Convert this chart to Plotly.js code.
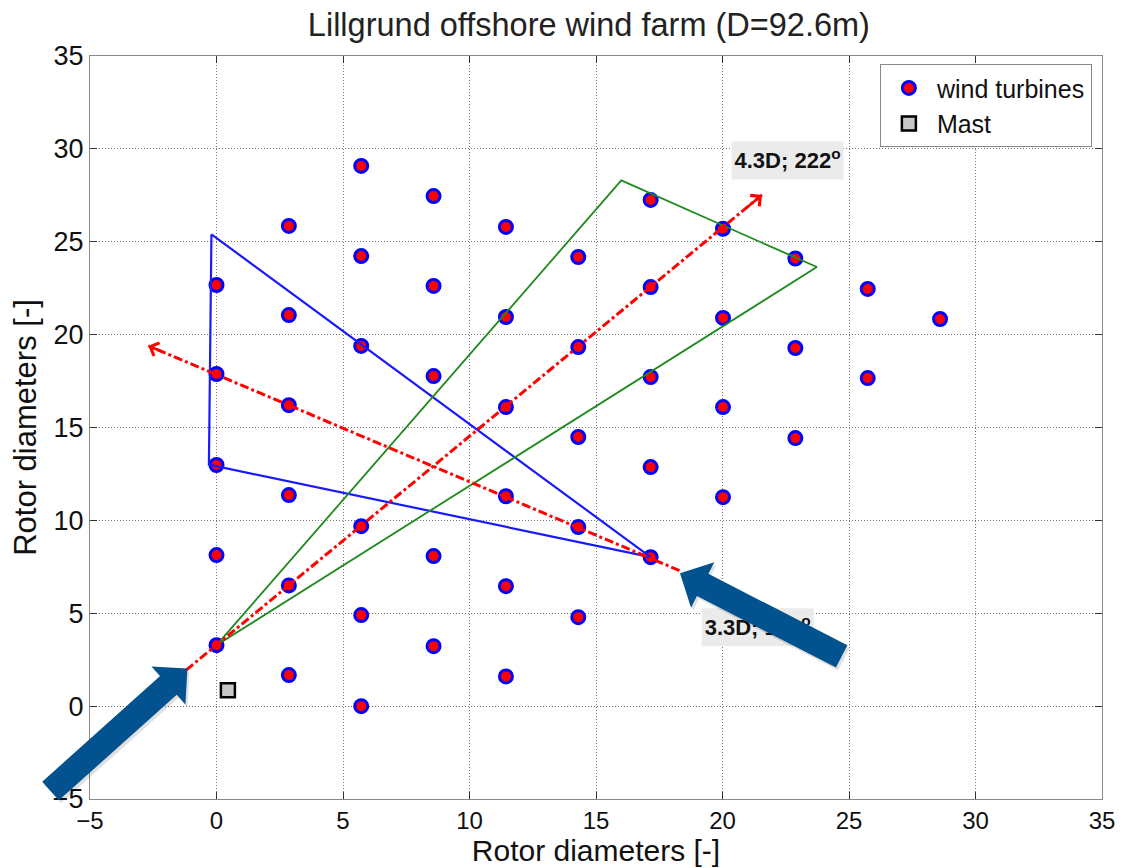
<!DOCTYPE html>
<html><head><meta charset="utf-8">
<script src="https://cdn.plot.ly/plotly-3.0.1.min.js"></script>
<style>html,body{margin:0;padding:0;background:#fff}#chart{width:1126px;height:868px}</style>
</head><body><div id="chart"></div>
<script>
// ---- data (rotor diameters) ----
const turbineX = [0,0,0,0,0,
  2.86,2.86,2.86,2.86,2.86,2.86,
  5.72,5.72,5.72,5.72,5.72,5.72,
  8.58,8.58,8.58,8.58,8.58,
  11.44,11.44,11.44,11.44,11.44,11.44,
  14.3,14.3,14.3,14.3,14.3,
  17.16,17.16,17.16,17.16,17.16,
  20.02,20.02,20.02,20.02,
  22.88,22.88,22.88,
  25.74,25.74,
  28.6];
const turbineY = [22.67,17.88,12.98,8.13,3.28,
  25.85,21.05,16.2,11.36,6.5,1.67,
  29.08,24.23,19.39,9.69,4.9,0,
  27.46,22.62,17.77,8.08,3.23,
  25.8,20.95,16.1,11.3,6.46,1.6,
  24.18,19.33,14.49,9.64,4.79,
  27.25,22.56,17.72,12.87,8.02,
  25.7,20.9,16.1,11.25,
  24.1,19.28,14.43,
  22.46,17.66,
  20.84];
const mastX = [0.45];
const mastY = [0.85];
const blueTriX = [-0.2, 17.16, -0.3, -0.2];
const blueTriY = [25.4, 8.02, 13.0, 25.4];
const greenTriX = [0, 16.0, 23.73, 0];
const greenTriY = [3.28, 28.3, 23.64, 3.28];
const dir222X = [-1.2, 21.56];
const dir222Y = [1.94, 27.52];
const dir120X = [18.3, -2.7];
const dir120Y = [7.3, 19.4];
const labelText = ['<b>4.3D; 222<sup>o</sup></b>', '<b>3.3D; 120<sup>o</sup></b>'];
const labelX = [22.57, 21.39];
const labelY = [29.37, 4.25];
const bigArrowTipX = [-1.15, 18.32];
const bigArrowTipY = [2.03, 7.15];
const bigArrowTailX = [-6.56, 24.71];
const bigArrowTailY = [-4.57, 2.68];
const tickVals = [-5,0,5,10,15,20,25,30,35];

// ---- layout geometry ----
const W = 1126, H = 868;
const M = {l:90, r:24, t:56, b:69};
const xRange = [-5, 35], yRange = [-5, 35];
const plotW = W - M.l - M.r, plotH = H - M.t - M.b;
const pxPerX = plotW / (xRange[1] - xRange[0]);
const pxPerY = plotH / (yRange[1] - yRange[0]);
function dataToPx(x, y){
  return [(x - xRange[0]) * pxPerX, (yRange[1] - y) * pxPerY];
}
function toPaper(p){ return [p[0] / plotW, 1 - p[1] / plotH]; }
function blockArrowPath(i, off){
  const T = dataToPx(bigArrowTipX[i], bigArrowTipY[i]);
  const S = dataToPx(bigArrowTailX[i], bigArrowTailY[i]);
  const dx = T[0]-S[0], dy = T[1]-S[1], L = Math.hypot(dx, dy);
  const u = [dx/L, dy/L], n = [-u[1], u[0]];
  const sw = 12.5, hw = 25.5, hl = 25.5;
  const B = [T[0]-u[0]*hl, T[1]-u[1]*hl];
  const pts = [
    [S[0]+n[0]*sw, S[1]+n[1]*sw],
    [B[0]+n[0]*sw, B[1]+n[1]*sw],
    [B[0]+n[0]*hw, B[1]+n[1]*hw],
    T,
    [B[0]-n[0]*hw, B[1]-n[1]*hw],
    [B[0]-n[0]*sw, B[1]-n[1]*sw],
    [S[0]-n[0]*sw, S[1]-n[1]*sw]
  ].map(p => toPaper([p[0]+off[0], p[1]+off[1]]));
  return 'M' + pts.map(p => p[0].toFixed(5) + ',' + p[1].toFixed(5)).join(' L') + ' Z';
}

const FONT = 'Liberation Sans, Arial, Helvetica, sans-serif';

const traces = [
  {type:'scatter', mode:'markers', name:'wind turbines', x:turbineX, y:turbineY,
   marker:{symbol:'circle', size:13, color:'#ff0000', line:{color:'#0000ff', width:3}}},
  {type:'scatter', mode:'markers', name:'Mast', x:mastX, y:mastY,
   marker:{symbol:'square', size:14, color:'#c8c8c8', line:{color:'#000', width:2.5}}},
  {type:'scatter', mode:'lines', x:blueTriX, y:blueTriY, showlegend:false, hoverinfo:'skip',
   line:{color:'#1a1aff', width:2.2}},
  {type:'scatter', mode:'lines', x:greenTriX, y:greenTriY, showlegend:false, hoverinfo:'skip',
   line:{color:'#1e8a1e', width:1.8}},
  {type:'scatter', mode:'lines', x:dir222X, y:dir222Y, showlegend:false, hoverinfo:'skip',
   line:{color:'#ff0000', width:3, dash:'dashdot'}},
  {type:'scatter', mode:'lines', x:dir120X, y:dir120Y, showlegend:false, hoverinfo:'skip',
   line:{color:'#ff0000', width:3, dash:'dashdot'}}
];

function headAnn(xs, ys){
  const x1 = xs[1], y1 = ys[1];
  const ax = x1 - (xs[1]-xs[0])*0.03, ay = y1 - (ys[1]-ys[0])*0.03;
  return {x:x1, y:y1, ax:ax, ay:ay, xref:'x', yref:'y', axref:'x', ayref:'y',
          text:'', showarrow:true, arrowhead:4, arrowsize:1.1, arrowwidth:2.5, arrowcolor:'#ff0000'};
}

const shapes = [];
const boxHalfW = 56 / pxPerX, boxHalfH = 19 / pxPerY;
for (let i = 0; i < labelText.length; i++){
  shapes.push({type:'rect', xref:'x', yref:'y',
    x0:labelX[i]-boxHalfW, x1:labelX[i]+boxHalfW, y0:labelY[i]-boxHalfH, y1:labelY[i]+boxHalfH,
    fillcolor:'#ebebeb', line:{width:0}, layer:'above',
    label:{text:labelText[i], font:{family:FONT, size:22, color:'#111'}, textposition:'middle center'}});
}
for (let i = 0; i < bigArrowTipX.length; i++){
  shapes.push({type:'path', xref:'paper', yref:'paper', layer:'above',
    path:blockArrowPath(i, [2, 3]), fillcolor:'rgba(0,0,0,0.12)', line:{width:0}});
  shapes.push({type:'path', xref:'paper', yref:'paper', layer:'above',
    path:blockArrowPath(i, [0, 0]), fillcolor:'#02528f', line:{width:0}});
}

const axisCommon = {
  tickvals:tickVals, ticks:'inside', ticklen:7, tickcolor:'#333', tickwidth:1,
  showline:true, linecolor:'#888', linewidth:1, mirror:'ticks',
  showgrid:true, gridcolor:'#777', griddash:'1px,2px', gridwidth:1,
  zeroline:false, automargin:false, fixedrange:true
};

const layout = {
  width:W, height:H,
  margin:{l:M.l, r:M.r, t:M.t, b:M.b, pad:0},
  paper_bgcolor:'#fff', plot_bgcolor:'#fff',
  font:{family:FONT, color:'#111'},
  title:{text:'Lillgrund offshore wind farm (D=92.6m)', font:{size:32.5, color:'#222'},
         x:0.523, xref:'container', xanchor:'center', y:0.972, yref:'container', yanchor:'middle'},
  xaxis:Object.assign({}, axisCommon, {range:xRange, tickfont:{size:24},
    title:{text:'Rotor diameters [-]', font:{size:30}, standoff:6}}),
  yaxis:Object.assign({}, axisCommon, {range:yRange, tickfont:{size:27},
    title:{text:'Rotor diameters [-]', font:{size:31}, standoff:6}}),
  showlegend:true,
  legend:{x:0.990, xanchor:'right', y:0.989, yanchor:'top', bgcolor:'#fff',
          bordercolor:'#888', borderwidth:1, font:{size:25, color:'#111'},
          itemwidth:46, tracegroupgap:0},
  shapes:shapes,
  annotations:[headAnn(dir222X, dir222Y), headAnn(dir120X, dir120Y)]
};

Plotly.newPlot('chart', traces, layout, {displayModeBar:false, staticPlot:true});
</script>
</body></html>
